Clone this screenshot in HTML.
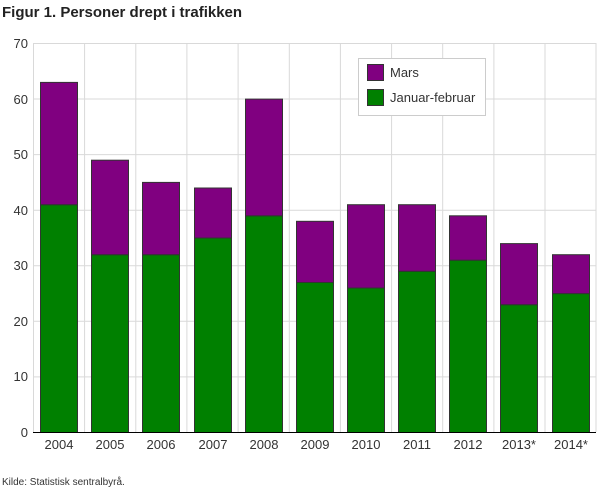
<!DOCTYPE html>
<html><head><style>body{margin:0;background:#fff}svg{display:block}text{font-family:"Liberation Sans",sans-serif}</style></head><body>
<svg width="610" height="488" xmlns="http://www.w3.org/2000/svg">
<text x="2" y="17" font-size="15" font-weight="bold" fill="#222">Figur 1. Personer drept i trafikken</text>
<g stroke="#d9d9d9" stroke-width="1">
<line x1="33.5" y1="43.5" x2="596" y2="43.5"/><line x1="33.5" y1="99" x2="596" y2="99"/><line x1="33.5" y1="154.6" x2="596" y2="154.6"/><line x1="33.5" y1="210.2" x2="596" y2="210.2"/><line x1="33.5" y1="265.7" x2="596" y2="265.7"/><line x1="33.5" y1="321.3" x2="596" y2="321.3"/><line x1="33.5" y1="376.9" x2="596" y2="376.9"/>
<line x1="84.6" y1="43" x2="84.6" y2="432"/><line x1="135.8" y1="43" x2="135.8" y2="432"/><line x1="186.9" y1="43" x2="186.9" y2="432"/><line x1="238.1" y1="43" x2="238.1" y2="432"/><line x1="289.3" y1="43" x2="289.3" y2="432"/><line x1="340.4" y1="43" x2="340.4" y2="432"/><line x1="391.6" y1="43" x2="391.6" y2="432"/><line x1="442.7" y1="43" x2="442.7" y2="432"/><line x1="493.9" y1="43" x2="493.9" y2="432"/><line x1="545" y1="43" x2="545" y2="432"/><line x1="596" y1="43" x2="596" y2="432"/>
</g>
<line x1="33.5" y1="43" x2="33.5" y2="432.5" stroke="#d9d9d9"/>
<g stroke="#333" stroke-width="1">
<rect x="40.5" y="204.7" width="37" height="227.8" fill="#008000"/><rect x="40.5" y="82.4" width="37" height="122.3" fill="#800080"/>
<rect x="91.5" y="254.7" width="37" height="177.8" fill="#008000"/><rect x="91.5" y="160.2" width="37" height="94.5" fill="#800080"/>
<rect x="142.5" y="254.7" width="37" height="177.8" fill="#008000"/><rect x="142.5" y="182.4" width="37" height="72.3" fill="#800080"/>
<rect x="194.5" y="238" width="37" height="194.5" fill="#008000"/><rect x="194.5" y="188" width="37" height="50" fill="#800080"/>
<rect x="245.5" y="215.8" width="37" height="216.7" fill="#008000"/><rect x="245.5" y="99.1" width="37" height="116.7" fill="#800080"/>
<rect x="296.5" y="282.5" width="37" height="150" fill="#008000"/><rect x="296.5" y="221.3" width="37" height="61.2" fill="#800080"/>
<rect x="347.5" y="288" width="37" height="144.5" fill="#008000"/><rect x="347.5" y="204.7" width="37" height="83.3" fill="#800080"/>
<rect x="398.5" y="271.3" width="37" height="161.2" fill="#008000"/><rect x="398.5" y="204.7" width="37" height="66.6" fill="#800080"/>
<rect x="449.5" y="260.2" width="37" height="172.3" fill="#008000"/><rect x="449.5" y="215.8" width="37" height="44.4" fill="#800080"/>
<rect x="500.5" y="304.7" width="37" height="127.8" fill="#008000"/><rect x="500.5" y="243.6" width="37" height="61.1" fill="#800080"/>
<rect x="552.5" y="293.6" width="37" height="138.9" fill="#008000"/><rect x="552.5" y="254.7" width="37" height="38.9" fill="#800080"/>
</g>
<line x1="33" y1="432.5" x2="596" y2="432.5" stroke="#000"/>
<g font-size="13" fill="#333" text-anchor="end">
<text x="28" y="48">70</text><text x="28" y="104">60</text><text x="28" y="159">50</text><text x="28" y="215">40</text><text x="28" y="270">30</text><text x="28" y="326">20</text><text x="28" y="381">10</text><text x="28" y="437">0</text>
</g>
<g font-size="13" fill="#333" text-anchor="middle">
<text x="59" y="449">2004</text><text x="110" y="449">2005</text><text x="161" y="449">2006</text><text x="213" y="449">2007</text><text x="264" y="449">2008</text><text x="315" y="449">2009</text><text x="366" y="449">2010</text><text x="417" y="449">2011</text><text x="468" y="449">2012</text><text x="519" y="449">2013*</text><text x="571" y="449">2014*</text>
</g>
<rect x="358.5" y="58.5" width="127" height="57" fill="#fff" stroke="#ccc"/>
<rect x="367.5" y="64.5" width="16" height="16" fill="#800080" stroke="#333"/>
<text x="390" y="77" font-size="13" fill="#333">Mars</text>
<rect x="367.5" y="89.5" width="16" height="16" fill="#008000" stroke="#333"/>
<text x="390" y="102" font-size="13" fill="#333">Januar-februar</text>
<text x="2" y="485" font-size="10" fill="#333">Kilde: Statistisk sentralbyrå.</text>
</svg></body></html>
